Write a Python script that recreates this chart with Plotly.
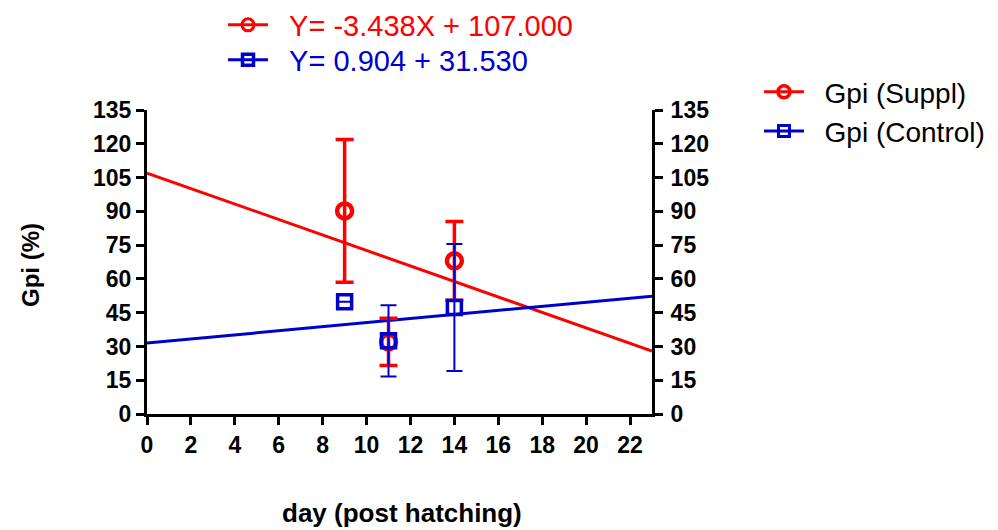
import plotly.graph_objects as go

# ---- data ----
days = [9, 11, 14]
suppl_mean = [90.2, 32.0, 68.0]
suppl_err = [31.7, 10.5, 17.5]
control_mean = [49.8, 32.5, 47.3]
control_err = [0.0, 15.8, 28.2]

fit_x = [0, 23]
suppl_slope, suppl_intercept = -3.438, 107.0
control_slope, control_intercept = 0.904, 31.53

suppl_eq = "Y= -3.438X + 107.000"
control_eq = "Y= 0.904 + 31.530"
suppl_name = "Gpi (Suppl)"
control_name = "Gpi (Control)"
x_title = "day (post hatching)"
y_title = "Gpi (%)"

x_ticks = list(range(0, 23, 2))
y_ticks = list(range(0, 136, 15))

RED = "#FF0000"
BLUE = "#0000CC"
FONT = "Arial, Liberation Sans, sans-serif"
GAP = "\u00a0\u00a0"

suppl_fit = [suppl_slope * x + suppl_intercept for x in fit_x]
control_fit = [control_slope * x + control_intercept for x in fit_x]

fig = go.Figure()

# regression lines
fig.add_trace(go.Scatter(x=fit_x, y=suppl_fit, mode="lines",
                         line=dict(color=RED, width=3), showlegend=False, hoverinfo="skip"))
fig.add_trace(go.Scatter(x=fit_x, y=control_fit, mode="lines",
                         line=dict(color=BLUE, width=3), showlegend=False, hoverinfo="skip"))

# data points with error bars
fig.add_trace(go.Scatter(x=days, y=suppl_mean, mode="markers",
                         marker=dict(symbol="circle-open", size=15, color=RED,
                                     line=dict(width=4.5, color=RED)),
                         error_y=dict(type="data", array=suppl_err, color=RED,
                                      thickness=3.5, width=9),
                         showlegend=False))
fig.add_trace(go.Scatter(x=days, y=control_mean, mode="markers",
                         marker=dict(symbol="square-open", size=14, color=BLUE,
                                     line=dict(width=3.5, color=BLUE)),
                         error_y=dict(type="data", array=control_err, color=BLUE,
                                      thickness=2, width=8),
                         showlegend=False))

# right-hand legend entries
fig.add_trace(go.Scatter(x=[None], y=[None], mode="lines+markers", name=GAP + suppl_name,
                         line=dict(color=RED, width=3),
                         marker=dict(symbol="circle-open", size=12, color=RED,
                                     line=dict(width=3.5, color=RED)),
                         legend="legend"))
fig.add_trace(go.Scatter(x=[None], y=[None], mode="lines+markers", name=GAP + control_name,
                         line=dict(color=BLUE, width=3),
                         marker=dict(symbol="square-open", size=11, color=BLUE,
                                     line=dict(width=3, color=BLUE)),
                         legend="legend"))

# top legend entries (regression equations)
fig.add_trace(go.Scatter(x=[None], y=[None], mode="lines+markers", name=GAP + suppl_eq,
                         line=dict(color=RED, width=3),
                         marker=dict(symbol="circle-open", size=12, color=RED,
                                     line=dict(width=3, color=RED)),
                         legend="legend2"))
fig.add_trace(go.Scatter(x=[None], y=[None], mode="lines+markers", name=GAP + control_eq,
                         line=dict(color=BLUE, width=3),
                         marker=dict(symbol="square-open", size=11, color=BLUE,
                                     line=dict(width=3.5, color=BLUE)),
                         legend="legend3"))

# invisible trace to carry the right axis
fig.add_trace(go.Scatter(x=[None], y=[None], yaxis="y2", showlegend=False, hoverinfo="skip"))

axis_common = dict(showgrid=False, zeroline=False, showline=True, linecolor="black",
                   linewidth=3, ticks="outside", ticklen=8, tickwidth=3, tickcolor="black",
                   automargin=False,
                   tickfont=dict(family=FONT, size=23, color="black", weight="bold"))

fig.update_layout(
    width=998, height=530,
    margin=dict(l=139, r=354, t=102, b=124, autoexpand=False),
    paper_bgcolor="white", plot_bgcolor="white",
    font=dict(family=FONT, color="black"),
    xaxis=dict(range=[0, 23], tickvals=x_ticks, **axis_common),
    yaxis=dict(range=[0, 135], tickvals=y_ticks, **axis_common),
    yaxis2=dict(range=[0, 135], tickvals=y_ticks, overlaying="y", side="right",
                ticklabelstandoff=3, **axis_common),
    legend=dict(x=751 / 998, y=1 - 59 / 530, xref="container", yref="container",
                xanchor="left", yanchor="top", bgcolor="rgba(0,0,0,0)",
                font=dict(family=FONT, size=28, color="black"), itemwidth=40,
                tracegroupgap=0),
    legend2=dict(x=215 / 998, y=1 - 17 / 530, xref="container", yref="container",
                 xanchor="left", yanchor="middle", bgcolor="rgba(0,0,0,0)",
                 font=dict(family=FONT, size=29, color=RED), itemwidth=40),
    legend3=dict(x=215 / 998, y=1 - 52 / 530, xref="container", yref="container",
                 xanchor="left", yanchor="middle", bgcolor="rgba(0,0,0,0)",
                 font=dict(family=FONT, size=29, color=BLUE), itemwidth=40),
    annotations=[
        dict(text=y_title, textangle=-90, xref="paper", yref="paper",
             x=(30 - 147) / 505, y=(414 - 265) / 304, showarrow=False,
             xanchor="center", yanchor="middle",
             font=dict(family=FONT, size=24, color="black", weight="bold")),
        dict(text=x_title, xref="paper", yref="paper",
             x=(402 - 147) / 505, y=(414 - 513) / 304, showarrow=False,
             xanchor="center", yanchor="middle",
             font=dict(family=FONT, size=26, color="black", weight="bold")),
    ],
)

fig.write_html("out.html")
